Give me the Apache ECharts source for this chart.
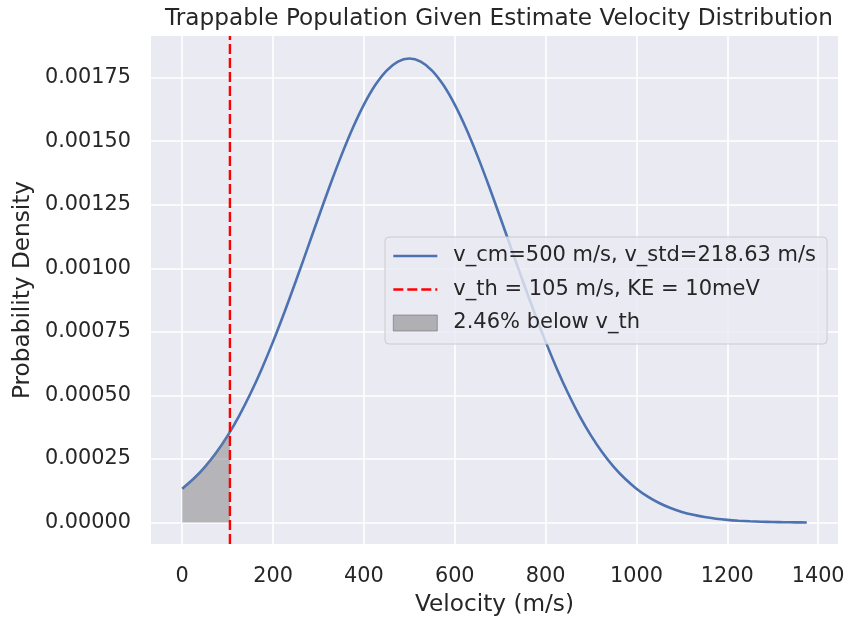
<!DOCTYPE html>
<html>
<head>
<meta charset="utf-8">
<script src="https://cdn.jsdelivr.net/npm/echarts@6/dist/echarts.min.js"></script>
<style>
html,body{margin:0;padding:0;background:#fff;}
#chart{width:848px;height:621px;}
</style>
</head>
<body>
<div id="chart"></div>
<script>
// ---- data ----
const velocity = [0,25,50,75,100,125,150,175,200,225,250,275,300,325,350,375,400,425,450,475,500,525,550,575,600,625,650,675,700,725,750,775,800,825,850,875,900,925,950,975,1000,1025,1050,1075,1100,1125,1150,1175,1200,1225,1250,1275,1300,1325,1350,1375];
const density = [0.0001335,0.0001723,0.0002194,0.0002758,0.0003422,0.0004191,0.0005066,0.0006044,0.0007117,0.0008272,0.0009490,0.0010745,0.0012009,0.0013245,0.0014420,0.0015496,0.0016435,0.0017204,0.0017776,0.0018128,0.0018247,0.0018128,0.0017776,0.0017204,0.0016435,0.0015496,0.0014420,0.0013245,0.0012009,0.0010745,0.0009490,0.0008272,0.0007117,0.0006044,0.0005066,0.0004191,0.0003422,0.0002758,0.0002194,0.0001723,0.0001335,0.0001021,0.0000771,0.0000574,0.0000422,0.0000307,0.0000220,0.0000155,0.0000108,0.0000075,0.0000051,0.0000034,0.0000023,0.0000015,0.0000010,0.0000006];
const fillVelocity = [0,25,50,75,100,105];
const fillDensity = [0.0001335,0.0001723,0.0002194,0.0002758,0.0003422,0.0003568];
const thresholdVelocity = 105;
const xTicks = [0,200,400,600,800,1000,1200,1400];
const yTicks = [0,0.00025,0.0005,0.00075,0.001,0.00125,0.0015,0.00175];
const xRange = [-68.75, 1443.75];
const yRange = [-0.0000841, 0.0019134];
const seriesNames = ['v_cm=500 m/s, v_std=218.63 m/s', 'v_th = 105 m/s, KE = 10meV', '2.46% below v_th'];
const titleText = 'Trappable Population Given Estimate Velocity Distribution';
const xLabel = 'Velocity (m/s)';
const yLabel = 'Probability Density';

const curve = velocity.map((v,i)=>[v, density[i]]);
const fill = fillVelocity.map((v,i)=>[v, fillDensity[i]]);
const vline = [[thresholdVelocity, yRange[0]], [thresholdVelocity, yRange[1]]];

const FONT = 'DejaVu Sans';
const TXT = '#262626';

const chart = echarts.init(document.getElementById('chart'), null, {renderer:'canvas'});
chart.setOption({
  animation: false,
  backgroundColor: '#ffffff',
  title: {
    text: titleText, left: 494, top: 2, textAlign: 'center',
    textStyle: {fontFamily: FONT, fontSize: 23.2, fontWeight: 'normal', color: TXT}
  },
  grid: {left: 151, right: 10, top: 36, bottom: 75.3, show: true, backgroundColor: '#EAEAF2', borderWidth: 0},
  xAxis: {
    type: 'value', min: xRange[0], max: xRange[1],
    name: xLabel, nameLocation: 'middle', nameGap: 49,
    nameTextStyle: {fontFamily: FONT, fontSize: 23.2, color: TXT},
    axisLine: {show: false}, axisTick: {show: false, customValues: xTicks},
    axisLabel: {customValues: xTicks, fontFamily: FONT, fontSize: 20.8, color: TXT, margin: 22, formatter: v => String(Math.round(v))},
    splitLine: {show: true, lineStyle: {color: '#ffffff', width: 1.6}}
  },
  yAxis: {
    type: 'value', min: yRange[0], max: yRange[1],
    name: yLabel, nameLocation: 'middle', nameGap: 116,
    nameTextStyle: {fontFamily: FONT, fontSize: 23.2, color: TXT},
    axisLine: {show: false}, axisTick: {show: false, customValues: yTicks},
    axisLabel: {customValues: yTicks, fontFamily: FONT, fontSize: 20.8, color: TXT, margin: 20, formatter: v => v.toFixed(5)},
    splitLine: {show: true, lineStyle: {color: '#ffffff', width: 1.6}}
  },
  legend: {
    orient: 'vertical', left: 385, top: 237,
    padding: [8, 11, 10, 7],
    itemWidth: 44, itemHeight: 16, itemGap: 11.5,
    backgroundColor: 'rgba(234,234,242,0.8)', borderColor: '#cccccc', borderWidth: 1, borderRadius: 4,
    textStyle: {fontFamily: FONT, fontSize: 21, color: TXT, lineHeight: 22, padding: [0,0,0,11]},
    data: [
      {name: seriesNames[0], itemStyle: {opacity: 0}, lineStyle: {width: 2.6}},
      {name: seriesNames[1], itemStyle: {opacity: 0}, lineStyle: {width: 2.6}},
      {name: seriesNames[2], icon: 'rect', itemStyle: {color: 'rgba(128,128,128,0.55)', borderColor: 'rgba(110,110,110,0.6)', borderWidth: 1}}
    ]
  },
  series: [
    {
      name: seriesNames[0], type: 'line', data: curve, showSymbol: false, symbol: 'none', smooth: 0.3,
      color: '#4C72B0', lineStyle: {color: '#4C72B0', width: 2.6}, z: 3
    },
    {
      name: seriesNames[1], type: 'line', data: vline, showSymbol: false, symbol: 'none',
      color: '#ff0000', lineStyle: {color: '#ff0000', width: 2.4, type: [10, 4]}, z: 4
    },
    {
      name: seriesNames[2], type: 'line', data: fill, showSymbol: false, symbol: 'none', smooth: 0.3,
      color: 'rgba(128,128,128,0.5)',
      lineStyle: {color: 'rgba(128,128,128,0.5)', width: 1},
      areaStyle: {color: 'rgba(128,128,128,0.5)', origin: 0, opacity: 1}, z: 3
    }
  ]
});
</script>
</body>
</html>
